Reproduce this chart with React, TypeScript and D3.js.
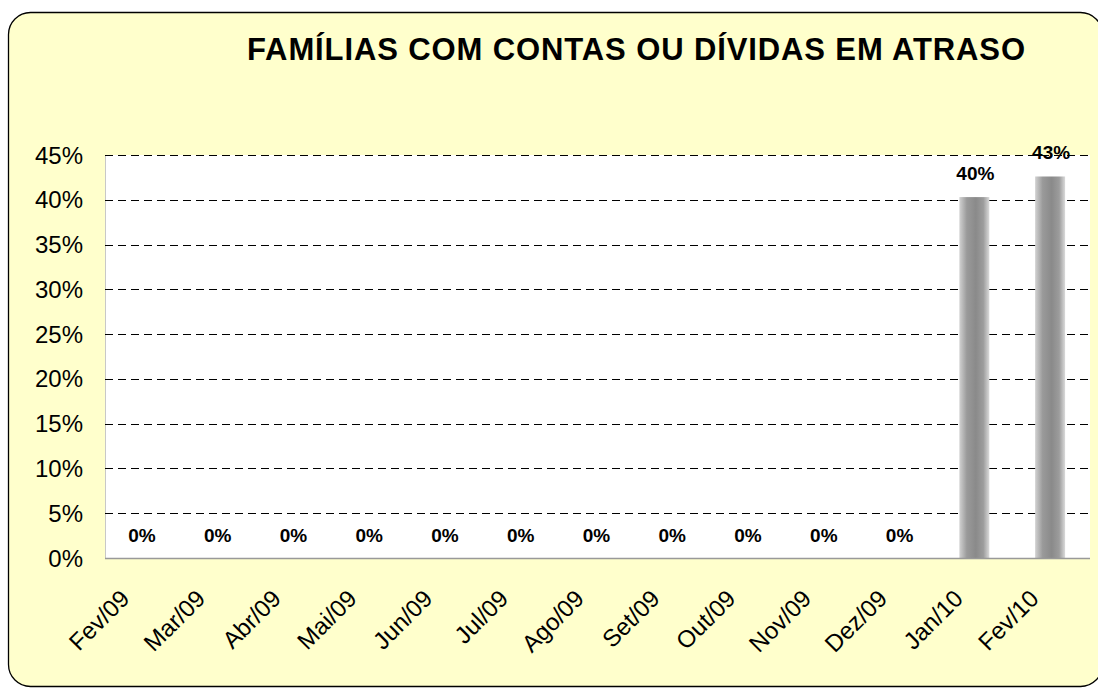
import React, { useEffect, useRef } from 'react';
import * as d3 from 'd3';

const categories = ['Fev/09', 'Mar/09', 'Abr/09', 'Mai/09', 'Jun/09', 'Jul/09', 'Ago/09', 'Set/09', 'Out/09', 'Nov/09', 'Dez/09', 'Jan/10', 'Fev/10'];
const values = [0, 0, 0, 0, 0, 0, 0, 0, 0, 0, 0, 0.403, 0.426];
const yTicks = [0, 0.05, 0.1, 0.15, 0.2, 0.25, 0.3, 0.35, 0.4, 0.45];
const title = 'FAMÍLIAS COM CONTAS OU DÍVIDAS EM ATRASO';

const App = () => {
  const svgRef = useRef<SVGSVGElement>(null);

  useEffect(() => {
    const width = 1098;
    const height = 689;
    const svg = d3.select(svgRef.current);
    svg.selectAll('*').remove();

    const plot = { left: 105, right: 1090, top: 155, bottom: 558 };
    const font = '"Liberation Sans", Arial, sans-serif';

    // background panel
    svg.append('rect')
      .attr('x', 8.5).attr('y', 12.5)
      .attr('width', 1094).attr('height', 674)
      .attr('rx', 22).attr('ry', 22)
      .attr('fill', '#FFFFCC')
      .attr('stroke', '#000').attr('stroke-width', 1.3);

    svg.append('text')
      .attr('x', 247).attr('y', 60)
      .attr('font-family', font).attr('font-weight', 'bold')
      .attr('font-size', 31)
      .attr('textLength', 778).attr('lengthAdjust', 'spacing')
      .text(title);

    const x = d3.scaleBand().domain(categories).range([plot.left, plot.right]);
    const y = d3.scaleLinear().domain([0, 0.45]).range([plot.bottom, plot.top]);

    // plot area
    svg.append('rect')
      .attr('x', plot.left).attr('y', plot.top)
      .attr('width', plot.right - plot.left).attr('height', plot.bottom - plot.top)
      .attr('fill', '#fff');
    svg.append('line')
      .attr('x1', plot.left + 0.5).attr('x2', plot.left + 0.5)
      .attr('y1', plot.top).attr('y2', plot.bottom)
      .attr('stroke', '#c8c8c8');

    // gridlines
    svg.append('g')
      .selectAll('line')
      .data(yTicks.filter(d => d > 0))
      .enter()
      .append('line')
      .attr('x1', plot.left).attr('x2', plot.right)
      .attr('y1', d => Math.round(y(d)) + 0.5).attr('y2', d => Math.round(y(d)) + 0.5)
      .attr('stroke', '#000').attr('stroke-dasharray', '8,5');

    // y tick labels
    svg.append('g')
      .selectAll('text')
      .data(yTicks)
      .enter()
      .append('text')
      .attr('x', 83).attr('y', d => y(d) + 8.5)
      .attr('text-anchor', 'end')
      .attr('font-family', font).attr('font-size', 24)
      .text(d => d3.format('.0%')(d));

    // bar gradient
    const defs = svg.append('defs');
    const grad = defs.append('linearGradient').attr('id', 'barGrad')
      .attr('x1', '0%').attr('x2', '100%').attr('y1', '0%').attr('y2', '0%');
    [['0%', '#d2d2d2'], ['25%', '#9a9a9a'], ['55%', '#8a8a8a'], ['80%', '#9c9c9c'], ['100%', '#dadada']]
      .forEach(([o, c]) => grad.append('stop').attr('offset', o).attr('stop-color', c));

    const bw = 30;
    svg.append('g')
      .selectAll('rect')
      .data(values)
      .enter()
      .append('rect')
      .attr('x', (d, i) => x(categories[i])! + (x.bandwidth() - bw) / 2 - 2)
      .attr('y', d => y(d))
      .attr('width', bw)
      .attr('height', d => y(0) - y(d))
      .attr('fill', 'url(#barGrad)');

    // axis line
    svg.append('line')
      .attr('x1', plot.left).attr('x2', plot.right)
      .attr('y1', plot.bottom + 0.5).attr('y2', plot.bottom + 0.5)
      .attr('stroke', '#999').attr('stroke-width', 1.5);

    // value labels
    svg.append('g')
      .selectAll('text')
      .data(values)
      .enter()
      .append('text')
      .attr('x', (d, i) => x(categories[i])! + x.bandwidth() / 2 - 1)
      .attr('y', d => (d === 0 ? 542 : y(d) - 17))
      .attr('text-anchor', 'middle')
      .attr('font-family', font).attr('font-weight', 'bold').attr('font-size', 19)
      .text(d => d3.format('.0%')(d));

    // x labels
    svg.append('g')
      .selectAll('text')
      .data(categories)
      .enter()
      .append('text')
      .attr('transform', d => `translate(${x(d)! + x.bandwidth() / 2 - 12},${plot.bottom + 42}) rotate(-45)`)
      .attr('text-anchor', 'end')
      .attr('font-family', font).attr('font-size', 24)
      .text(d => d);

    svg.attr('width', width).attr('height', height);
  }, []);

  return <svg ref={svgRef} style={{ position: 'absolute', left: 0, top: 0 }}></svg>;
};

export default App;
